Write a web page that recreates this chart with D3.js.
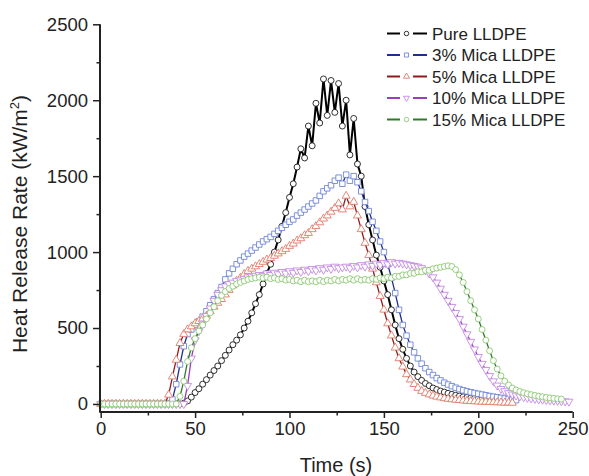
<!DOCTYPE html>
<html>
<head>
<meta charset="utf-8">
<script src="https://cdn.jsdelivr.net/npm/d3@7"></script>
<style>
  html, body { margin: 0; padding: 0; background: #fff; }
  svg { display: block; font-family: "Liberation Sans", Arial, sans-serif; }
</style>
</head>
<body>
<svg id="chart" width="589" height="476"></svg>
<script>
// Heat release rate, sampled every 2 s starting at t = 0
const sampleStep = 2;

const seriesNames = ["Pure LLDPE", "3% Mica LLDPE", "5% Mica LLDPE", "10% Mica LLDPE", "15% Mica LLDPE"];

const pureLLDPE = [
  0,0,0,0,0,0,0,0,0,0,0,0,0,0,0,0,0,0,0,0,0,0,
  5,20,45,75,100,130,160,190,220,250,285,320,355,390,420,455,500,545,600,660,720,790,860,920,
  1000,1080,1170,1260,1360,1450,1560,1680,1620,1830,1700,1980,1850,2140,1900,2130,1920,2110,1830,2000,
  1640,1880,1580,1500,1300,1180,1080,980,900,810,720,620,520,430,360,300,250,210,180,155,135,120,105,95,
  85,78,70,63,57,52,47,43,40,37,34,31,29,27,25,23,22,20,19,18
];

const mica3 = [
  0,0,0,0,0,0,0,0,0,0,0,0,0,0,0,0,0,0,0,
  30,130,260,380,460,490,520,545,575,610,650,690,730,770,820,860,890,920,945,970,990,1010,1030,1050,
  1070,1085,1100,1120,1140,1160,1180,1200,1215,1240,1260,1280,1300,1320,1340,1370,1400,1420,1440,1470,
  1490,1450,1510,1470,1500,1460,1400,1330,1270,1200,1140,1070,1000,920,830,730,620,520,450,390,340,300,
  265,235,210,190,170,155,140,128,117,107,98,90,83,77,72,67,62,57,52,48,44,40,36,32,28,25
];

const mica5 = [
  0,0,0,0,0,0,0,0,0,0,0,0,0,0,0,0,0,0,
  60,180,290,400,460,490,510,530,545,560,580,610,640,665,690,720,750,780,810,830,855,875,890,905,
  920,935,950,960,975,990,1005,1020,1040,1055,1075,1090,1110,1125,1150,1170,1195,1220,1240,1265,1290,1320,
  1280,1370,1300,1330,1240,1150,1060,980,890,800,710,620,530,450,370,300,245,195,160,130,105,85,
  72,62,54,47,42,37,33,30,27,25,22,20,18,17,15,14,13,12,11,10,9,8,8,7
];

const mica10 = [
  0,0,0,0,0,0,0,0,0,0,0,0,0,0,0,0,0,0,0,0,0,0,0,
  120,300,420,480,530,580,630,680,720,750,775,790,800,810,815,825,835,840,845,850,845,860,850,865,
  855,870,860,875,865,880,870,885,875,890,880,895,885,900,890,905,895,900,905,895,910,900,915,905,
  920,910,925,915,930,920,935,925,930,925,920,915,910,905,895,880,860,835,800,760,720,680,640,600,
  560,510,460,410,360,310,265,225,185,150,122,100,85,72,63,56,50,45,41,37,34,31,29,27,25,23,21,19,18,16
];

const mica15 = [
  0,0,0,0,0,0,0,0,0,0,0,0,0,0,0,0,0,0,0,0,0,
  50,150,280,370,430,480,520,560,600,640,680,715,740,760,775,790,800,810,820,825,830,835,830,835,
  825,830,820,825,815,820,810,815,805,815,805,810,805,815,805,815,810,820,810,820,815,825,815,825,
  815,820,815,825,820,830,825,835,830,840,840,850,850,860,860,870,870,880,880,890,895,900,905,910,
  905,885,850,800,740,680,620,560,490,420,350,285,230,185,150,125,105,92,82,74,67,61,56,51,47,43,40,37,34,32
];

const xTicks = [0, 50, 100, 150, 200, 250];
const xMinorTicks = [25, 75, 125, 175, 225];
const yTicks = [0, 500, 1000, 1500, 2000, 2500];
const yMinorTicks = [250, 750, 1250, 1750, 2250];

const seriesValues = [pureLLDPE, mica3, mica5, mica10, mica15];

// drawing styles per series: connecting line, hollow marker outline, marker shape
const lineColors = ["#000000", "#1f2f8f", "#8c1d1d", "#9a3dbf", "#2e7a2a"];
const markerColors = ["#1a1a1a", "#6f86d8", "#e07c6a", "#c48ae2", "#8cc872"];
const markerShapes = ["circle", "square", "triangle", "triangleDown", "circle"];

const svg = d3.select("#chart");

const x = d3.scaleLinear().domain([0, 250]).range([100.7, 572.7]);
const y = d3.scaleLinear().domain([-53, 2500]).range([412, 24.3]);

function symbolPath(shape, scale) {
  const s = scale || 1;
  if (shape === "circle") return d3.symbol(d3.symbolCircle, 28 * s * s)();
  if (shape === "square") return d3.symbol(d3.symbolSquare, 30 * s * s)();
  return d3.symbol(d3.symbolTriangle, 28 * s * s)();
}
function symbolTransform(shape, px, py) {
  return shape === "triangleDown"
    ? `translate(${px},${py}) rotate(180)`
    : `translate(${px},${py})`;
}

// series
const plot = svg.append("g");
seriesValues.forEach((vals, k) => {
  const pts = vals.map((v, i) => ({ t: i * sampleStep, v }));
  const g = plot.append("g");
  g.append("path")
    .datum(pts)
    .attr("fill", "none")
    .attr("stroke", lineColors[k])
    .attr("stroke-width", k === 0 ? 2 : 1.3)
    .attr("d", d3.line().x(d => x(d.t)).y(d => y(d.v)));
  g.selectAll("path.m")
    .data(pts)
    .join("path")
    .attr("class", "m")
    .attr("d", symbolPath(markerShapes[k]))
    .attr("transform", d => symbolTransform(markerShapes[k], x(d.t), y(d.v)))
    .attr("fill", "#fff")
    .attr("stroke", markerColors[k])
    .attr("stroke-width", 0.9);
});

// axes
const tickFont = "18.5px";
const xAxis = svg.append("g").attr("transform", `translate(0,412)`)
  .call(d3.axisBottom(x).tickValues(xTicks).tickSize(6).tickPadding(4).tickFormat(d3.format("d")));
svg.append("g").attr("transform", `translate(0,412)`)
  .call(d3.axisBottom(x).tickValues(xMinorTicks).tickSize(3.5).tickFormat(""))
  .call(g => g.select(".domain").remove());

const yAxis = svg.append("g").attr("transform", `translate(100,0)`)
  .call(d3.axisLeft(y).tickValues(yTicks).tickSize(7).tickPadding(5).tickFormat(d3.format("d")));
svg.append("g").attr("transform", `translate(100,0)`)
  .call(d3.axisLeft(y).tickValues(yMinorTicks).tickSize(3.5).tickFormat(""))
  .call(g => g.select(".domain").remove());

// plain axis lines without end caps
svg.selectAll(".domain").attr("stroke", "#222").attr("stroke-width", 2);
xAxis.select(".domain").attr("d", `M${99.3},0H${572.7}`);
yAxis.select(".domain").attr("d", `M0,${24.3}V${412}`);

svg.selectAll(".tick line").attr("stroke", "#222").attr("stroke-width", 1.5);
svg.selectAll(".tick text").attr("fill", "#222").style("font-size", tickFont)
  .style("font-family", "'Liberation Sans', Arial, sans-serif");

// axis titles
svg.append("text")
  .attr("x", 336).attr("y", 472)
  .attr("text-anchor", "middle")
  .attr("fill", "#222")
  .style("font-size", "20px")
  .text("Time (s)");

const yTitle = svg.append("text")
  .attr("transform", "translate(27,224) rotate(-90)")
  .attr("text-anchor", "middle")
  .attr("fill", "#222")
  .style("font-size", "21px");
yTitle.append("tspan").text("Heat Release Rate (kW/m");
yTitle.append("tspan").attr("dy", -8).style("font-size", "13px").text("2");
yTitle.append("tspan").attr("dy", 8).text(")");

// legend
const legend = svg.append("g");
seriesNames.forEach((name, k) => {
  const ly = 33.5 + k * 21.5;
  const row = legend.append("g");
  row.append("line").attr("x1", 387).attr("x2", 400).attr("y1", ly).attr("y2", ly)
    .attr("stroke", lineColors[k]).attr("stroke-width", 2);
  row.append("line").attr("x1", 413).attr("x2", 427).attr("y1", ly).attr("y2", ly)
    .attr("stroke", lineColors[k]).attr("stroke-width", 2);
  row.append("path")
    .attr("d", symbolPath(markerShapes[k], 0.75))
    .attr("transform", symbolTransform(markerShapes[k], 406.5, ly))
    .attr("fill", "#fff")
    .attr("stroke", markerColors[k])
    .attr("stroke-width", 0.9);
  row.append("text")
    .attr("x", 432).attr("y", ly + 6)
    .attr("fill", "#222")
    .style("font-size", "17px")
    .text(name);
});
</script>
</body>
</html>
